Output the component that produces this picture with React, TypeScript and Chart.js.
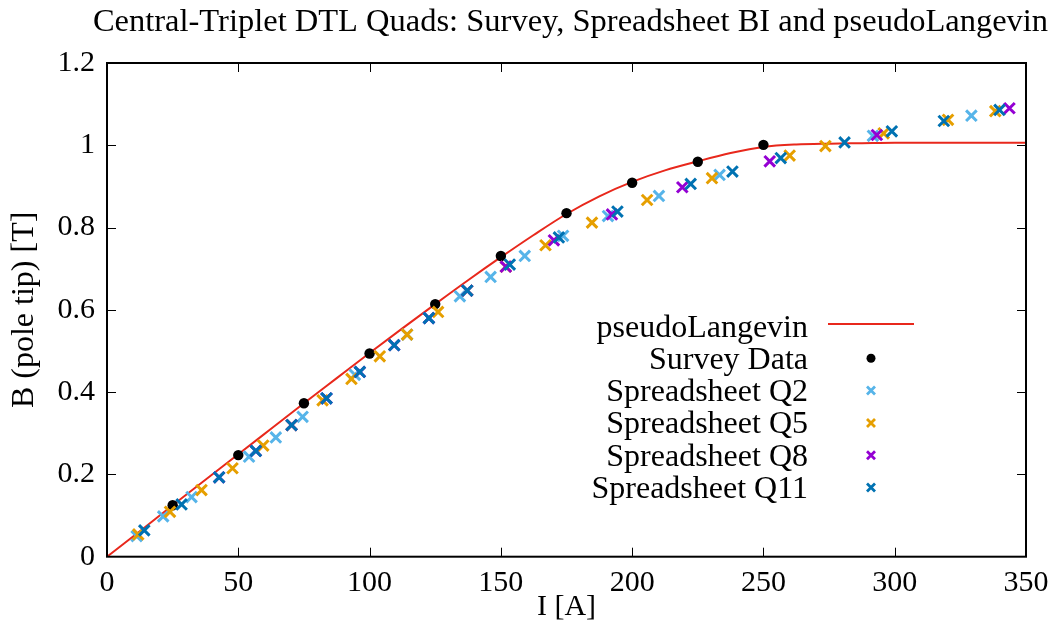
import React, { useEffect, useRef } from 'react';
import { Chart, registerables } from 'chart.js';

Chart.register(...registerables);

const TITLE = 'Central-Triplet DTL Quads: Survey, Spreadsheet BI and pseudoLangevin';
const X_TITLE = 'I [A]';
const Y_TITLE = 'B (pole tip) [T]';

const xTickValues = [0, 50, 100, 150, 200, 250, 300, 350];
const xTickLabels = ['0', '50', '100', '150', '200', '250', '300', '350'];
const yTickValues = [0, 0.2, 0.4, 0.6, 0.8, 1, 1.2];
const yTickLabels = ['0', '0.2', '0.4', '0.6', '0.8', '1', '1.2'];

// pseudoLangevin fit curve
const curveI = [0, 12.5, 25, 37.5, 50, 62.5, 75, 87.5, 100, 112.5, 125, 137.5, 150, 162.5, 175, 187.5, 200, 212.5, 225, 237.5, 250, 262.5, 275, 287.5, 300, 325, 350];
const curveB = [0, 0.062, 0.125, 0.187, 0.249, 0.311, 0.373, 0.434, 0.495, 0.555, 0.614, 0.672, 0.728, 0.782, 0.833, 0.876, 0.911, 0.939, 0.961, 0.981, 0.996, 1.002, 1.004, 1.005, 1.006, 1.006, 1.006];

// Survey data
const surveyI = [25, 50, 75, 100, 125, 150, 175, 200, 225, 250];
const surveyB = [0.125, 0.247, 0.373, 0.494, 0.614, 0.731, 0.835, 0.909, 0.960, 1.001];

// Spreadsheet Q2
const q2I = [11.3, 21.4, 32.2, 54.1, 64.3, 74.5, 83.6, 94.4, 114.3, 122.6, 134.4, 146.1, 159.1, 173.7, 190.8, 210.2, 233.3, 291.7, 329.2];
const q2B = [0.050, 0.098, 0.145, 0.243, 0.290, 0.340, 0.385, 0.442, 0.540, 0.580, 0.633, 0.680, 0.731, 0.780, 0.828, 0.877, 0.928, 1.023, 1.072];

// Spreadsheet Q5
const q5I = [11.9, 24.0, 36.0, 47.8, 59.5, 70.3, 82.1, 93.1, 103.9, 114.3, 126.1, 137.2, 151.9, 167.0, 184.7, 205.7, 230.4, 260.0, 273.6, 295.8, 320.3, 338.3];
const q5B = [0.054, 0.109, 0.162, 0.215, 0.270, 0.320, 0.380, 0.432, 0.487, 0.540, 0.595, 0.647, 0.705, 0.757, 0.812, 0.867, 0.920, 0.975, 0.998, 1.029, 1.062, 1.083];

// Spreadsheet Q8
const q8I = [42.7, 56.7, 70.3, 83.6, 96.3, 109.4, 122.6, 137.2, 151.9, 170.2, 192.3, 219.1, 252.4, 293.2, 343.7];
const q8B = [0.193, 0.257, 0.320, 0.385, 0.449, 0.514, 0.580, 0.647, 0.705, 0.769, 0.832, 0.898, 0.961, 1.025, 1.090];

// Spreadsheet Q11
const q11I = [14.2, 28.4, 42.7, 56.7, 70.3, 83.6, 96.3, 109.4, 122.6, 137.2, 153.4, 172.1, 194.4, 222.3, 238.2, 256.6, 280.9, 298.9, 318.7, 339.9];
const q11B = [0.064, 0.127, 0.193, 0.257, 0.320, 0.385, 0.449, 0.514, 0.580, 0.647, 0.710, 0.776, 0.839, 0.906, 0.936, 0.969, 1.007, 1.034, 1.059, 1.086];

const FONT = "'Liberation Serif', 'Times New Roman', serif";

const toPts = (xs: number[], ys: number[]) => xs.map((x, i) => ({ x, y: ys[i] }));

const titlePlugin = {
  id: 'gpTitle',
  afterDraw(chart: any) {
    const { ctx, chartArea } = chart;
    ctx.save();
    ctx.font = `32.5px ${FONT}`;
    ctx.fillStyle = '#000';
    ctx.textAlign = 'center';
    ctx.textBaseline = 'alphabetic';
    ctx.fillText(TITLE, (chartArea.left + chartArea.right) / 2 + 4, 30.5);
    ctx.restore();
  },
};

const framePlugin = {
  id: 'frameTicks',
  afterDatasetsDraw(chart: any) {
    const { ctx, chartArea, scales } = chart;
    const { left, right, top, bottom } = chartArea;
    const tl = 9;
    ctx.save();
    ctx.strokeStyle = '#000';
    ctx.lineWidth = 1;
    ctx.beginPath();
    xTickValues.forEach((v) => {
      const px = Math.round(scales.x.getPixelForValue(v)) + 0.5;
      if (v !== xTickValues[0] && v !== xTickValues[xTickValues.length - 1]) {
        ctx.moveTo(px, bottom);
        ctx.lineTo(px, bottom - tl);
        ctx.moveTo(px, top);
        ctx.lineTo(px, top + tl);
      }
    });
    yTickValues.forEach((v) => {
      const py = Math.round(scales.y.getPixelForValue(v)) + 0.5;
      if (v !== yTickValues[0] && v !== yTickValues[yTickValues.length - 1]) {
        ctx.moveTo(left, py);
        ctx.lineTo(left + tl, py);
        ctx.moveTo(right, py);
        ctx.lineTo(right - tl, py);
      }
    });
    ctx.stroke();
    ctx.lineWidth = 2;
    ctx.strokeRect(left, top, right - left, bottom - top);
    ctx.restore();
  },
};

const legendPlugin = {
  id: 'gpLegend',
  afterDraw(chart: any) {
    const { ctx, chartArea } = chart;
    const textRight = chartArea.right - 218;
    const symX = chartArea.right - 155;
    const lineX0 = chartArea.right - 198;
    const lineX1 = chartArea.right - 112;
    const row0 = chartArea.top + 263;
    const step = 32.3;
    ctx.save();
    ctx.font = `32px ${FONT}`;
    ctx.fillStyle = '#000';
    ctx.textAlign = 'right';
    ctx.textBaseline = 'alphabetic';
    chart.data.datasets.forEach((ds: any, i: number) => {
      const cy = row0 + i * step;
      ctx.fillStyle = '#000';
      ctx.fillText(ds.label, textRight, cy + 10.5);
      if (ds.showLine) {
        ctx.strokeStyle = ds.borderColor;
        ctx.lineWidth = ds.borderWidth;
        ctx.beginPath();
        ctx.moveTo(lineX0, cy - 2);
        ctx.lineTo(lineX1, cy - 2);
        ctx.stroke();
      } else if (ds.pointStyle === 'circle') {
        ctx.fillStyle = ds.backgroundColor;
        ctx.beginPath();
        ctx.arc(symX, cy, 4.5, 0, Math.PI * 2);
        ctx.fill();
      } else {
        ctx.strokeStyle = ds.borderColor;
        ctx.lineWidth = 2.8;
        const r = 4;
        ctx.beginPath();
        ctx.moveTo(symX - r, cy - r);
        ctx.lineTo(symX + r, cy + r);
        ctx.moveTo(symX - r, cy + r);
        ctx.lineTo(symX + r, cy - r);
        ctx.stroke();
      }
    });
    ctx.restore();
  },
};

const crossDs = (label: string, xs: number[], ys: number[], color: string, order: number) => ({
  label,
  data: toPts(xs, ys),
  showLine: false,
  pointStyle: 'crossRot',
  pointRadius: 7.5,
  pointBorderWidth: 3,
  borderColor: color,
  backgroundColor: color,
  pointHoverRadius: 7.5,
  order,
});

export default function App() {
  const canvasRef = useRef<HTMLCanvasElement | null>(null);

  useEffect(() => {
    if (!canvasRef.current) return;
    Chart.defaults.color = '#000';
    const chart = new Chart(canvasRef.current, {
      type: 'scatter',
      data: {
        datasets: [
          {
            label: 'pseudoLangevin',
            data: toPts(curveI, curveB),
            showLine: true,
            borderColor: '#e8281c',
            backgroundColor: '#e8281c',
            borderWidth: 2,
            pointRadius: 0,
            pointHoverRadius: 0,
            cubicInterpolationMode: 'monotone',
            order: 5,
          } as any,
          {
            label: 'Survey Data',
            data: toPts(surveyI, surveyB),
            showLine: false,
            pointStyle: 'circle',
            pointRadius: 5.2,
            pointBorderWidth: 0,
            borderColor: '#000',
            backgroundColor: '#000',
            order: 4,
          } as any,
          crossDs('Spreadsheet Q2', q2I, q2B, '#56b4e9', 3),
          crossDs('Spreadsheet Q5', q5I, q5B, '#e69f00', 2),
          crossDs('Spreadsheet Q8', q8I, q8B, '#9400d3', 1),
          crossDs('Spreadsheet Q11', q11I, q11B, '#0072b2', 0),
        ],
      },
      options: {
        animation: false,
        responsive: true,
        maintainAspectRatio: false,
        layout: { padding: { left: 0, right: 34, top: 63, bottom: 0 } },
        plugins: {
          legend: { display: false },
          tooltip: { enabled: false },
          title: { display: false },
        },
        scales: {
          x: {
            type: 'linear',
            min: 0,
            max: 350,
            grid: { display: false, drawTicks: false },
            border: { display: false },
            afterBuildTicks: (s: any) => {
              s.ticks = xTickValues.map((v) => ({ value: v }));
            },
            afterFit: (s: any) => {
              s.height = 72.3;
            },
            ticks: {
              color: '#000',
              padding: 8,
              font: { family: FONT, size: 30 },
              callback: (v: any) => xTickLabels[xTickValues.indexOf(Number(v))] ?? '',
            },
            title: {
              display: true,
              text: X_TITLE,
              color: '#000',
              font: { family: FONT, size: 30, lineHeight: 1.2 },
              padding: { top: 0, bottom: 4 },
            },
          },
          y: {
            type: 'linear',
            min: 0,
            max: 1.2,
            grid: { display: false, drawTicks: false },
            border: { display: false },
            afterBuildTicks: (s: any) => {
              s.ticks = yTickValues.map((v) => ({ value: v }));
            },
            afterFit: (s: any) => {
              s.width = 107;
            },
            ticks: {
              color: '#000',
              padding: 12,
              font: { family: FONT, size: 30 },
              callback: (v: any) => {
                const idx = yTickValues.findIndex((t) => Math.abs(t - Number(v)) < 1e-9);
                return idx >= 0 ? yTickLabels[idx] : '';
              },
            },
            title: {
              display: true,
              text: Y_TITLE,
              color: '#000',
              font: { family: FONT, size: 32, lineHeight: 1.2 },
              padding: { top: 5, bottom: 0 },
            },
          },
        },
      },
      plugins: [framePlugin, legendPlugin, titlePlugin],
    } as any);
    return () => chart.destroy();
  }, []);

  return (
    <div style={{ position: 'fixed', left: 0, top: 0, width: 1060, height: 629, background: '#fff' }}>
      <canvas ref={canvasRef} />
    </div>
  );
}
